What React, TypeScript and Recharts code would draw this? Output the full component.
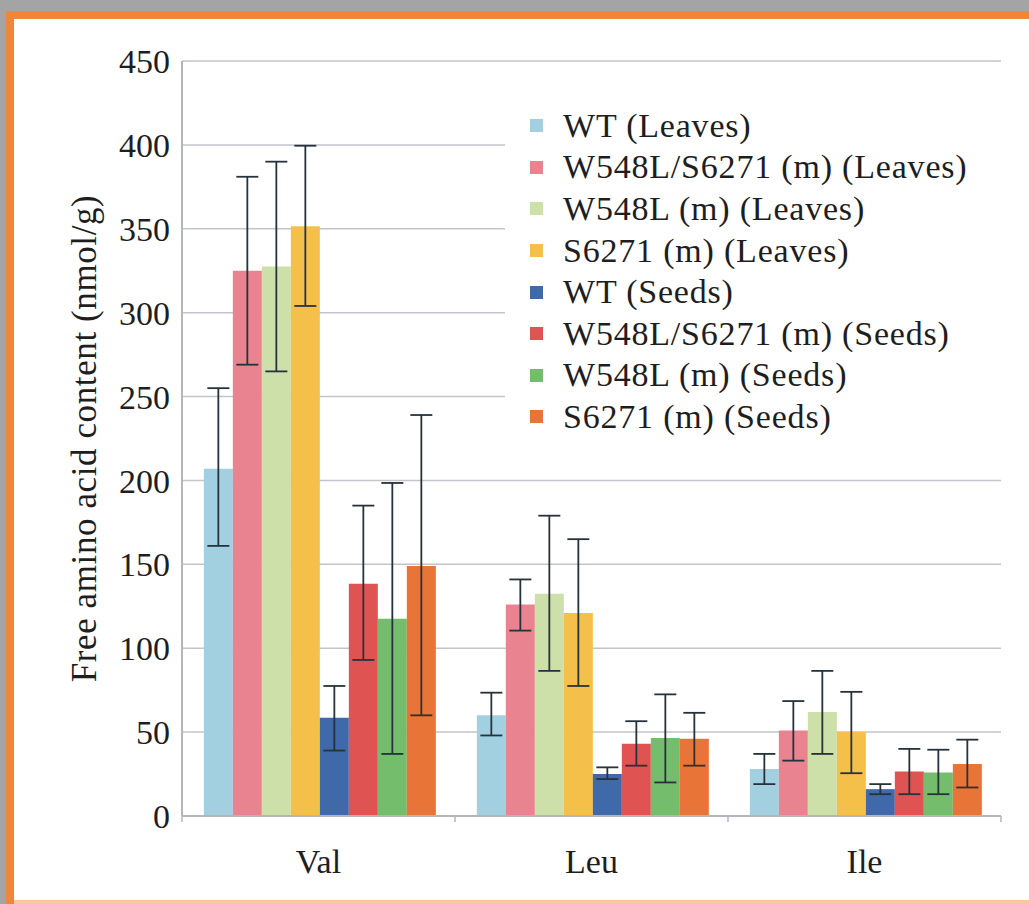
import React from 'react';
import { BarChart, Bar, XAxis, YAxis, CartesianGrid, Legend, ErrorBar } from 'recharts';

const categories = ['Val', 'Leu', 'Ile'];

const seriesNames = [
  'WT (Leaves)',
  'W548L/S6271 (m) (Leaves)',
  'W548L (m) (Leaves)',
  'S6271 (m) (Leaves)',
  'WT (Seeds)',
  'W548L/S6271 (m) (Seeds)',
  'W548L (m) (Seeds)',
  'S6271 (m) (Seeds)',
];

const seriesColors = ['#a3d0e0', '#e8838f', '#cde0a9', '#f4c04a', '#3f69a8', '#e05353', '#74bd6c', '#e87537'];

// bar heights, one value per category (Val, Leu, Ile)
const wtLeaves = [207, 60, 28];
const doubleLeaves = [325, 126, 51];
const w548lLeaves = [327.5, 132.5, 62];
const s6271Leaves = [351.5, 121, 50];
const wtSeeds = [58.5, 25, 16];
const doubleSeeds = [138.5, 43, 26.5];
const w548lSeeds = [117.5, 46.5, 26];
const s6271Seeds = [149, 46, 31];

// error bar ends [low, high] per category
const wtLeavesErr = [[161, 255], [48, 73.5], [19, 37]];
const doubleLeavesErr = [[269, 381], [110.5, 141], [33, 68.5]];
const w548lLeavesErr = [[265, 390], [86.5, 179], [37, 86.5]];
const s6271LeavesErr = [[304, 399.5], [77.5, 165], [25.5, 74]];
const wtSeedsErr = [[39, 77.5], [22, 29], [13, 19]];
const doubleSeedsErr = [[93, 185], [30, 56.5], [13, 40]];
const w548lSeedsErr = [[37, 198.5], [20, 72.5], [13, 39.5]];
const s6271SeedsErr = [[60, 239], [30, 61.5], [17, 45.5]];

const yTicks = [0, 50, 100, 150, 200, 250, 300, 350, 400, 450];

const seriesValues = [wtLeaves, doubleLeaves, w548lLeaves, s6271Leaves, wtSeeds, doubleSeeds, w548lSeeds, s6271Seeds];
const seriesErrors = [wtLeavesErr, doubleLeavesErr, w548lLeavesErr, s6271LeavesErr, wtSeedsErr, doubleSeedsErr, w548lSeedsErr, s6271SeedsErr];

const data = categories.map((name, i) => {
  const row: Record<string, any> = { name };
  seriesValues.forEach((vals, s) => {
    const v = vals[i];
    const [lo, hi] = seriesErrors[s][i];
    row[`s${s}`] = v;
    row[`e${s}`] = [v - lo, hi - v];
  });
  return row;
});

const FONT = "'Liberation Serif', 'Times New Roman', serif";
const AXIS_GREY = '#b3b6bd';
const TICK_MARGIN = 33;

const CategoryTick = (props: any) => {
  const { x, y, payload, index, visibleTicksCount } = props;
  const half = payload.offset || 0;
  const axisY = y - TICK_MARGIN;
  return (
    <g>
      <line x1={x - half} x2={x - half} y1={axisY} y2={axisY + 6} stroke={AXIS_GREY} strokeWidth={1.5} />
      {index === visibleTicksCount - 1 && (
        <line x1={x + half} x2={x + half} y1={axisY} y2={axisY + 6} stroke={AXIS_GREY} strokeWidth={1.5} />
      )}
      <text x={x} y={y} dy="0.71em" textAnchor="middle" fontSize={34} fontFamily={FONT} fill="#1e1e1e">
        {payload.value}
      </text>
    </g>
  );
};

// keep the legend in series order (recharts sorts it by name otherwise)
const renderLegend = (props: any) => {
  const payload = [...(props.payload || [])].sort(
    (a: any, b: any) => seriesNames.indexOf(a.value) - seriesNames.indexOf(b.value)
  );
  return (
    <div style={{ background: '#fff', paddingLeft: 25, fontFamily: FONT, fontSize: 34, color: '#1e1e1e' }}>
      {payload.map((entry: any) => (
        <div key={entry.value} style={{ display: 'flex', alignItems: 'center', height: 41.6, letterSpacing: 0.8, whiteSpace: 'nowrap' }}>
          <span style={{ display: 'inline-block', width: 13, height: 13, background: entry.color, marginRight: 20 }} />
          <span>{entry.value}</span>
        </div>
      ))}
    </div>
  );
};

export default function App() {
  return (
    <div style={{ position: 'absolute', left: 0, top: 0, width: 1029, height: 904, background: '#a4a4a4', overflow: 'hidden' }}>
      <div style={{ position: 'absolute', left: 6, top: 11, right: 0, bottom: 0, background: '#f0863a' }} />
      <div style={{ position: 'absolute', left: 14, top: 19, right: 0, bottom: 4, background: '#ffffff' }} />
      <div style={{ position: 'absolute', left: 14, right: 0, bottom: 0, height: 4, background: '#f6c7a4' }} />
      <div style={{ position: 'absolute', left: 0, top: 0 }}>
        <BarChart
          width={1029}
          height={904}
          data={data}
          margin={{ top: 61, right: 28, bottom: 0, left: 0 }}
          barCategoryGap="8%"
          barGap={0}
        >
          <CartesianGrid vertical={false} stroke="#c3c5cb" strokeWidth={1.5} />
          <XAxis
            dataKey="name"
            height={88}
            axisLine={{ stroke: AXIS_GREY, strokeWidth: 2 }}
            tickLine={false}
            tickSize={0}
            tickMargin={TICK_MARGIN}
            tick={<CategoryTick />}
            interval={0}
          />
          <YAxis
            width={182}
            domain={[0, 450]}
            ticks={yTicks}
            interval={0}
            axisLine={{ stroke: AXIS_GREY, strokeWidth: 2 }}
            tickLine={false}
            tickSize={0}
            tickMargin={12}
            tick={{ fontSize: 34, fontFamily: FONT, fill: '#1e1e1e' }}
            label={{
              value: 'Free amino acid content (nmol/g)',
              angle: -90,
              position: 'insideLeft',
              offset: 84,
              style: { textAnchor: 'middle', fontSize: 35, letterSpacing: 0.6, fontFamily: FONT, fill: '#1e1e1e' },
            }}
          />
          <Legend
            layout="vertical"
            align="center"
            verticalAlign="middle"
            content={renderLegend}
            wrapperStyle={{ position: 'absolute', left: 505, top: 105, width: 496, height: 'auto' }}
          />
          {seriesNames.map((name, s) => (
            <Bar key={name} dataKey={`s${s}`} name={name} fill={seriesColors[s]} isAnimationActive={false}>
              <ErrorBar dataKey={`e${s}`} width={11} stroke="#27323c" strokeWidth={1.8} />
            </Bar>
          ))}
        </BarChart>
      </div>
    </div>
  );
}
